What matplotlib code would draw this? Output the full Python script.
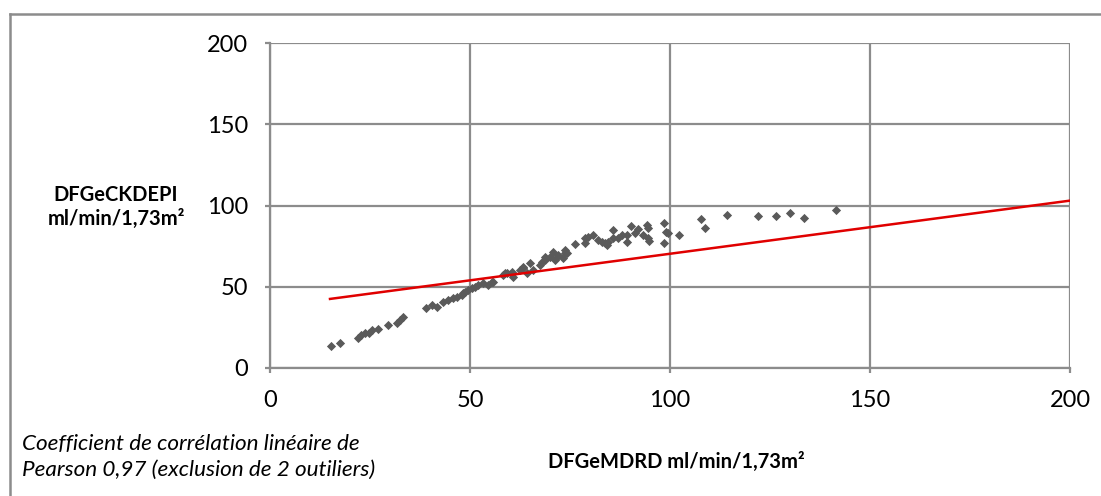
import matplotlib
matplotlib.use("Agg")
import matplotlib.pyplot as plt
from matplotlib.lines import Line2D
import numpy as np

plt.rcParams['font.family'] = ['Lato', 'DejaVu Sans']

# DFGe MDRD (x) vs DFGe CKD-EPI (y), ml/min/1,73m²
mdrd = [15.2, 17.5, 22.0, 22.7, 23.8, 24.8, 25.4, 27.1, 29.4, 31.7, 32.5, 33.2,
        39.0, 40.4, 41.7, 43.3, 44.6, 45.8, 46.7, 47.9, 48.3, 48.8, 49.6, 50.4,
        51.3, 52.1, 53.3, 54.6, 55.4, 55.8, 58.3, 58.8, 59.2, 60.4, 60.4, 60.8,
        62.5, 63.2, 63.3, 64.2, 65.0, 65.8, 67.5, 67.9, 68.8, 68.8, 70.0, 70.8,
        71.3, 71.7, 72.1, 73.3, 73.8, 73.8, 74.2, 76.3, 78.8, 78.8, 79.6, 80.8,
        82.1, 82.9, 83.8, 84.2, 84.6, 85.8, 85.8, 87.1, 87.9, 89.2, 89.2, 90.2,
        91.3, 92.1, 93.3, 94.2, 94.6, 94.6, 94.8, 98.5, 99.0, 98.5, 99.6, 102.3,
        107.7, 108.8, 114.2, 122.0, 126.6, 130.0, 133.5, 141.4]
ckdepi = [13.7, 15.2, 18.3, 20.3, 21.7, 21.3, 23.4, 23.8, 26.5, 27.9, 29.5, 31.2,
          36.7, 38.8, 37.7, 40.8, 41.8, 42.9, 43.9, 44.9, 46.0, 47.0, 48.0, 49.0,
          50.0, 51.0, 52.1, 51.0, 53.1, 53.0, 57.2, 58.3, 58.3, 57.8, 59.2, 56.2,
          60.3, 61.9, 61.3, 58.3, 64.4, 60.3, 63.4, 65.4, 66.5, 68.5, 68.5, 71.6,
          66.5, 68.5, 69.5, 67.5, 70.6, 72.6, 70.6, 76.3, 76.7, 79.8, 80.8, 81.8,
          78.8, 77.7, 76.7, 75.7, 77.7, 84.9, 79.8, 79.8, 81.8, 77.7, 81.8, 87.4,
          82.9, 85.3, 81.8, 88.0, 86.0, 79.8, 78.3, 89.0, 83.9, 76.7, 82.9, 81.8,
          91.5, 86.0, 94.2, 93.5, 93.5, 95.6, 92.5, 97.2]

# Linear trend line
trend_x = [15, 200]
trend_slope = 0.327
trend_intercept = 37.6

x_ticks = [0, 50, 100, 150, 200]
y_ticks = [0, 50, 100, 150, 200]

fig = plt.figure(figsize=(11.01, 4.96), dpi=100)
ax = fig.add_axes([270 / 1101, 128 / 496, 800 / 1101, 325 / 496])

grid_col = '#8c8c8c'
ax.set_xlim(0, 200)
ax.set_ylim(0, 200)
ax.set_xticks(x_ticks)
ax.set_yticks(y_ticks)
ax.grid(True, color=grid_col, linewidth=1.6)
ax.set_axisbelow(True)
for side in ['top', 'right']:
    ax.spines[side].set_visible(False)
for side in ['left', 'bottom']:
    ax.spines[side].set_color(grid_col)
    ax.spines[side].set_linewidth(1.6)
ax.tick_params(axis='both', direction='out', length=3.5, width=1.6, color=grid_col,
               labelsize=17, labelcolor='black')
ax.tick_params(axis='y', pad=12.5)
ax.tick_params(axis='x', pad=12)

ax.scatter(mdrd, ckdepi, marker='D', s=22, color='#5a5a5a', linewidths=0, zorder=3)

tx = np.array(trend_x, dtype=float)
ax.plot(tx, trend_slope * tx + trend_intercept, color='#e00000', linewidth=1.8, zorder=4)

# Axis titles
fig.text(116 / 1101, 1 - 207 / 496, 'DFGeCKDEPI\nml/min/1,73m²', ha='center', va='center',
         fontsize=14.5, fontweight='bold', linespacing=1.25)
fig.text(676 / 1101, 1 - 462 / 496, 'DFGeMDRD ml/min/1,73m²', ha='center', va='center',
         fontsize=14.5, fontweight='bold')

# Footnote
fig.text(22 / 1101, 1 - 444 / 496, 'Coefficient de corrélation linéaire de',
         ha='left', va='center', fontsize=16.2, style='italic')
fig.text(22 / 1101, 1 - 470 / 496, 'Pearson 0,97 (exclusion de 2 outiliers)',
         ha='left', va='center', fontsize=16.2, style='italic')

# Outer chart frame (left and top edges)
fig.add_artist(Line2D([9.5 / 1101, 9.5 / 1101], [0, 1 - 13.5 / 496],
                      transform=fig.transFigure, color=grid_col, linewidth=1.8))
fig.add_artist(Line2D([9.5 / 1101, 1], [1 - 13.5 / 496, 1 - 13.5 / 496],
                      transform=fig.transFigure, color=grid_col, linewidth=1.8))

fig.savefig('out.png', dpi=100)
